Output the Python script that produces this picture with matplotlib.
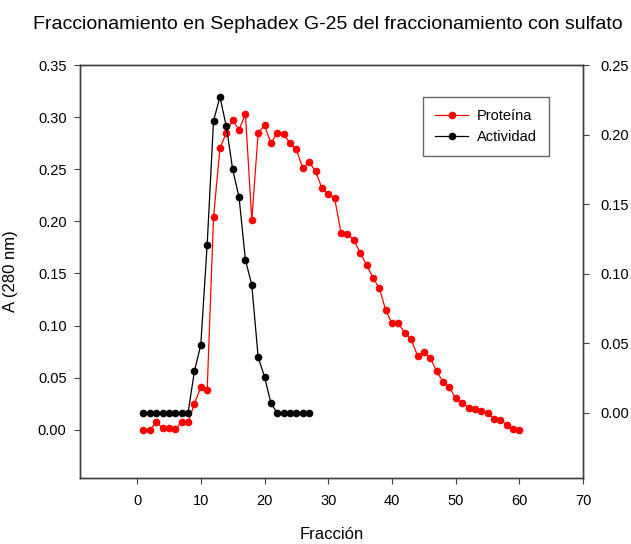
import matplotlib
matplotlib.use("Agg")
import matplotlib.pyplot as plt

plt.rcParams['font.family'] = ['Liberation Sans', 'DejaVu Sans']

# Proteína (A 280 nm), fracciones 1-60, eje izquierdo
frac_prot = list(range(1, 61))
proteina = [0.000, 0.000, 0.007, 0.002, 0.002, 0.001, 0.007, 0.007, 0.025, 0.041,
            0.038, 0.204, 0.270, 0.285, 0.297, 0.288, 0.303, 0.201, 0.285, 0.292,
            0.275, 0.285, 0.284, 0.275, 0.269, 0.251, 0.257, 0.248, 0.232, 0.226,
            0.222, 0.189, 0.188, 0.182, 0.170, 0.158, 0.146, 0.136, 0.115, 0.102,
            0.102, 0.093, 0.087, 0.071, 0.075, 0.069, 0.056, 0.046, 0.041, 0.030,
            0.026, 0.021, 0.020, 0.018, 0.016, 0.010, 0.009, 0.005, 0.001, 0.000]

# Actividad, fracciones 1-27, eje derecho
frac_act = list(range(1, 28))
actividad = [0.000, 0.000, 0.000, 0.000, 0.000, 0.000, 0.000, 0.000, 0.030, 0.049,
             0.121, 0.210, 0.227, 0.206, 0.175, 0.155, 0.110, 0.092, 0.040, 0.026,
             0.007, 0.000, 0.000, 0.000, 0.000, 0.000, 0.000]

x_ticks = [0, 10, 20, 30, 40, 50, 60, 70]
left_ticks = [0.00, 0.05, 0.10, 0.15, 0.20, 0.25, 0.30, 0.35]
right_ticks = [0.00, 0.05, 0.10, 0.15, 0.20, 0.25]

fig = plt.figure(figsize=(6.31, 5.44), dpi=100)
ax = fig.add_axes([0.1263, 0.1219, 0.798, 0.7586])
ax2 = ax.twinx()

spine_col = '#404040'
for a in (ax, ax2):
    for s in a.spines.values():
        s.set_color(spine_col)
        s.set_linewidth(1.0)
    a.tick_params(direction='out', length=4.5, width=0.8, color=spine_col,
                  labelsize=10.5, pad=4)

l1, = ax.plot(frac_prot, proteina, color='red', lw=0.9, marker='o',
              markersize=5.5, markeredgewidth=0, label='Proteína')
l2, = ax2.plot(frac_act, actividad, color='black', lw=0.9, marker='o',
               markersize=5.5, markeredgewidth=0, label='Actividad')

ax.set_xlim(-9, 70)
ax.set_ylim(-0.046, 0.35)
ax2.set_ylim(-0.0465, 0.25)
ax.set_xticks(x_ticks)
ax.set_yticks(left_ticks)
ax.set_yticklabels([f'{v:.2f}' for v in left_ticks])
ax2.set_yticks(right_ticks)
ax2.set_yticklabels([f'{v:.2f}' for v in right_ticks])
ax.tick_params(axis='x', pad=7)
ax.tick_params(axis='y', pad=5)
ax2.tick_params(axis='y', pad=8)

ax.set_xlabel('Fracción', fontsize=12, labelpad=14)
ax.set_ylabel('A (280 nm)', fontsize=12, labelpad=14)
fig.suptitle('Fraccionamiento en Sephadex G-25 del fraccionamiento con sulfato',
             fontsize=14, x=0.52, y=0.97)

leg = ax.legend(handles=[l1, l2], loc='upper left', bbox_to_anchor=(0.682, 0.9225),
                fontsize=10.5, frameon=True, fancybox=False, borderpad=0.8,
                handlelength=2.3, handletextpad=0.6, labelspacing=0.5,
                borderaxespad=0)
leg.get_frame().set_edgecolor(spine_col)
leg.get_frame().set_linewidth(1.0)

fig.savefig('out.png', dpi=100)
